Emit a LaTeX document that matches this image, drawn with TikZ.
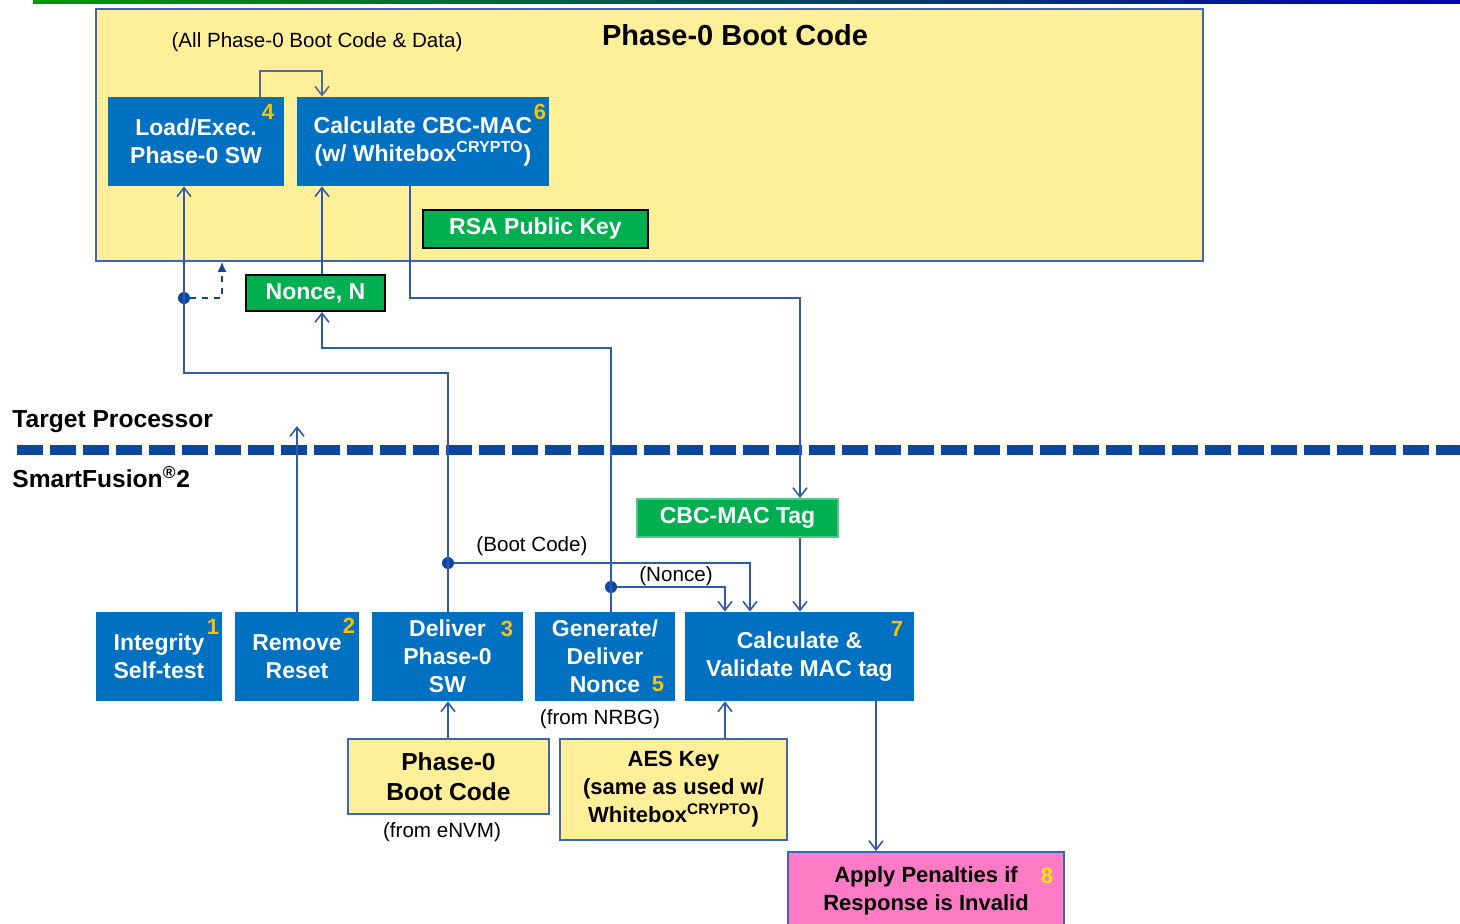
\documentclass[tikz,border=0pt]{standalone}
\usepackage{fontspec}
\setmainfont{Liberation Sans}
\usetikzlibrary{arrows.meta}
\definecolor{boxblue}{HTML}{0070C0}
\definecolor{keygreen}{HTML}{00B050}
\definecolor{bootyellow}{HTML}{FFEF99}
\definecolor{edgeblue}{HTML}{3E66B8}
\definecolor{flowblue}{HTML}{2F5AAE}
\definecolor{sepblue}{HTML}{0B46A0}
\definecolor{numorange}{HTML}{FFC000}
\definecolor{penpink}{HTML}{FF7BC6}

\begin{document}
\begin{tikzpicture}[x=0.5pt, y=-0.5pt,
    bluebox/.style={fill=boxblue, text=white, align=center, inner sep=0pt,
        font=\bfseries\fontsize{11.5}{14}\selectfont, minimum height=44.5pt},
    greenbox/.style={fill=keygreen, draw=black, line width=1pt, text=white, inner sep=0pt,
        font=\bfseries\fontsize{11.5}{14}\selectfont, minimum height=19pt},
    yellowbox/.style={fill=bootyellow, draw=edgeblue, line width=1pt, align=center, inner sep=0pt,
        font=\bfseries\fontsize{11}{14}\selectfont},
    num/.style={text=numorange, font=\bfseries\fontsize{11}{11}\selectfont, inner sep=0pt},
    note/.style={font=\fontsize{10.3}{12}\selectfont, inner sep=0pt},
    side/.style={font=\bfseries\fontsize{12.3}{14}\selectfont, inner sep=0pt, anchor=west},
    flow/.style={draw=flowblue, line width=0.8pt, -{Straight Barb[length=4.5pt,width=7pt]}},
    dot/.style={circle, fill=sepblue, inner sep=0pt, minimum size=6pt}]
    \useasboundingbox (0,0) rectangle (1460,923);

    % slide frame
    \fill[green!4!white!95!black!3] (0,0) rectangle (8,923);
    \shade[left color=green!60!black, right color=blue!70!black] (33,0) rectangle (1460,3);

    % Phase-0 boot code area
    \node[fill=bootyellow, draw=edgeblue, line width=0.8pt, minimum width=553.5pt, minimum height=126pt] (boot) at (649.5,135) {};
    \node[font=\bfseries\fontsize{14.5}{16}\selectfont] (title) at (735,35) {Phase-0 Boot Code};
    \node[note] (alldata) at (317,42) {(All Phase-0 Boot Code \& Data)};

    \node[bluebox, minimum width=88pt] (b4) at (196,141.5) {Load/Exec.\\Phase-0 SW};
    \node[bluebox, minimum width=126pt] (b6) at (423,141.5) {Calculate CBC-MAC\\(w/ Whitebox\textsuperscript{CRYPTO})};
    \node[greenbox, minimum width=112.5pt] (rsa) at (535.5,229) {RSA Public Key};
    \node[greenbox, minimum width=69.5pt, minimum height=18pt] (nonce) at (315.5,293) {Nonce, N};

    % divider
    \draw[sepblue, line width=5pt, dash pattern=on 13pt off 3.5pt] (17,450) -- (1460,450);
    \node[side] (tp) at (12,422) {Target Processor};
    \node[side] (sf) at (12,477) {SmartFusion\textsuperscript{®}2};

    % SmartFusion2 steps
    \node[bluebox, minimum width=63pt] (b1) at (159,656.5) {Integrity\\Self-test};
    \node[bluebox, minimum width=62pt] (b2) at (297,656.5) {Remove\\Reset};
    \node[bluebox, minimum width=75.5pt] (b3) at (447.5,656.5) {Deliver\\Phase-0\\SW};
    \node[bluebox, minimum width=70pt] (b5) at (605,656.5) {Generate/\\Deliver\\Nonce};
    \node[bluebox, minimum width=114.5pt] (b7) at (799.5,656.5) {Calculate \&\\Validate MAC tag};
    \node[greenbox, draw=keygreen!70!white, minimum width=100.5pt] (tag) at (737.5,518) {CBC-MAC Tag};

    \node[yellowbox, font=\bfseries\fontsize{12.3}{15}\selectfont, minimum width=100.5pt, minimum height=37.5pt] (code) at (448.5,776.5) {Phase-0\\Boot Code};
    \node[yellowbox, minimum width=113.5pt, minimum height=50.5pt] (aes) at (673.5,789.5) {AES Key\\(same as used w/\\Whitebox\textsuperscript{CRYPTO})};
    \node[yellowbox, fill=penpink, minimum width=138pt, minimum height=39pt] (pen) at (926,891) {Apply Penalties if\\Response is Invalid};

    \node[note] (nrbg) at (600,719) {(from NRBG)};
    \node[note] (envm) at (442,832) {(from eNVM)};
    \node[note] (lboot) at (532,546) {(Boot Code)};
    \node[note] (lnonce) at (676,576) {(Nonce)};

    % step numbers
    \node[num] (n1) at (213,627) {1};
    \node[num] (n2) at (349,626) {2};
    \node[num] (n3) at (507,629) {3};
    \node[num] (n4) at (268,112) {4};
    \node[num] (n5) at (658,684) {5};
    \node[num] (n6) at (540,112) {6};
    \node[num] (n7) at (897,629) {7};
    \node[num, text=yellow!90!orange] (n8) at (1047,876) {8};

    % junctions
    \node[dot] (jload) at (184,298) {};
    \node[dot] (jboot) at (448,563) {};
    \node[dot] (jnonce) at (611,587) {};
    \coordinate (rst) at (297,426);

    % connectors
    \draw[flow, draw=flowblue!55!gray] (260,0 |- b4.north) |- (322,71) -- (322,0 |- b6.north);
    \draw[flow] (448,0 |- b3.north) |- (184,373) -- (184,0 |- b4.south);
    \draw[sepblue, line width=0.8pt, dashed, -{Latex[length=5pt,width=4.5pt]}] (jload) -| (222,0 |- boot.south);
    \draw[flow] (322,0 |- nonce.north) -- (322,0 |- b6.south);
    \draw[flow] (611,0 |- b5.north) |- (322,348) -- (322,0 |- nonce.south);
    \draw[flow] (410,0 |- b6.south) |- (800,298) -- (800,0 |- tag.north);
    \draw[flow] (800,0 |- tag.south) -- (800,0 |- b7.north);
    \draw[flow] (jboot) -| (750,0 |- b7.north);
    \draw[flow] (jnonce) -| (725,0 |- b7.north);
    \draw[flow] (b2.north) -- (rst);
    \draw[flow] (448,0 |- code.north) -- (448,0 |- b3.south);
    \draw[flow] (725,0 |- aes.north) -- (725,0 |- b7.south);
    \draw[flow] (876,0 |- b7.south) -- (876,0 |- pen.north);
\end{tikzpicture}
\end{document}
